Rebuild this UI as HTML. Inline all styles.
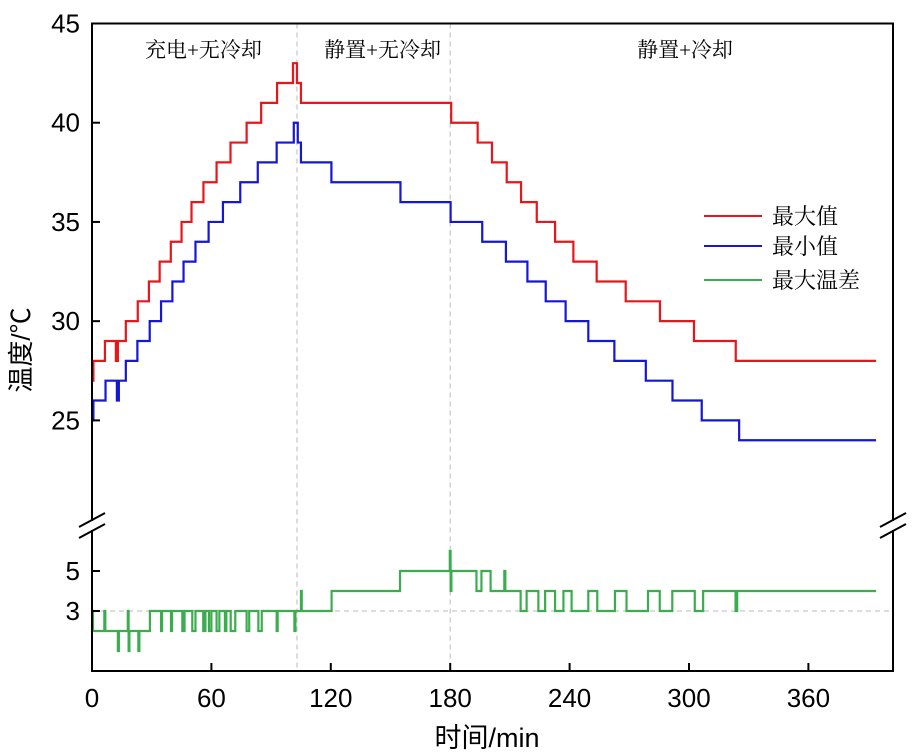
<!DOCTYPE html>
<html><head><meta charset="utf-8"><style>
html,body{margin:0;padding:0;background:#fff;}
svg{display:block;font-family:"Liberation Sans","Noto Sans CJK SC",sans-serif;}
.cn{font-family:"Liberation Serif","Noto Serif CJK SC",serif;}
</style></head><body>
<svg id="chart" width="920" height="756" viewBox="0 0 920 756" xmlns="http://www.w3.org/2000/svg"></svg>
<script>
const redTimes=[0,0.7,6.5,12,13,17,23,28.6,34,39.6,45,50,56,62.6,69.6,77.7,85,93,101,103,105,180.5,193.8,201,208.4,215.6,223.5,232.7,241.9,253.6,268.2,285.4,302.5,323.5];
const redValues=[27,28,29,28,29,30,31,32,33,34,35,36,37,38,39,40,41,42,43,42,41,40,39,38,37,36,35,34,33,32,31,30,29,28];
const blueTimes=[0,0.7,6.8,12.5,13.5,17,22.8,29,34.7,40.4,46,52,58.6,65.8,74.5,83.3,92.8,101.4,103.4,105,120.3,155,180.2,196.1,208,218.8,228,238,249.4,262.5,278.3,291.7,306.4,325.2];
const blueValues=[25,26,27,26,27,28,29,30,31,32,33,34,35,36,37,38,39,40,39,38,37,36,35,34,33,32,31,30,29,28,27,26,25,24];
const greenTimes=[0,0.5,6.2,6.7,13,13.5,18,18.4,18.8,23.3,23.8,29.1,34.7,35.2,39.7,40.2,45.4,46.5,50.4,52,55.9,57,58.8,60,62.6,64,66.8,67.5,69.7,72,77.7,79,83.6,85.3,92.8,93.3,101.7,102.2,105,105.4,120.4,154.8,179.8,180.2,180.6,193.2,195.7,200.3,207.2,207.7,215.4,218.4,224.3,227.7,232.7,236.9,241,249.4,253.9,262.8,268.6,279.4,285.3,291.6,302.9,307.1,323.4,324.2];
const greenValues=[3,2,3,2,1,2,3,1,2,1,2,3,2,3,2,3,2,3,2,3,2,3,2,3,2,3,2,3,2,3,2,3,2,3,2,3,2,3,4,3,4,5,6,4,5,4,5,4,5,4,3,4,3,4,3,4,3,4,3,4,3,4,3,4,3,4,3,4];
const endTime=394;
const xTicks=[0,60,120,180,240,300,360];
const yTicksUpper=[25,30,35,40,45];
const yTicksLower=[3,5];
const phaseLabels=["充电+无冷却","静置+无冷却","静置+冷却"];
const phaseCenters=[56,146,298];
const phaseBounds=[103,180];
const legendLabels=["最大值","最小值","最大温差"];

const L=92,R=893,TOP=23.5,UB=519.6,LT=531,B=671;
const X=t=>L+t*1.99;
const YU=v=>UB-(v-20)*(UB-TOP)/25;
const YL=v=>B-v*(B-LT)/7;
const svg=document.getElementById('chart');
const NS="http://www.w3.org/2000/svg";
function el(tag,attrs,parent){const e=document.createElementNS(NS,tag);for(const k in attrs)e.setAttribute(k,attrs[k]);(parent||svg).appendChild(e);return e;}

phaseBounds.forEach(t=>{
  const d=el('line',{x1:X(t),x2:X(t),y1:TOP,y2:B,stroke:'#bbb','stroke-width':1,'stroke-dasharray':'5,4'});
  
  
});
const h=el('line',{x1:L,x2:R,y1:YL(3),y2:YL(3),stroke:'#bbb','stroke-width':1,'stroke-dasharray':'5,4'});



function stepPath(ts,vs,Y){
  let d='M'+X(ts[0])+','+Y(vs[0]);
  for(let i=1;i<ts.length;i++){d+=' H'+X(ts[i])+' V'+Y(vs[i]);}
  d+=' H'+X(endTime);return d;
}
const pr=el('path',{d:stepPath(redTimes,redValues,YU),fill:'none',stroke:'#e8161b','stroke-width':2.2});


const pb=el('path',{d:stepPath(blueTimes,blueValues,YU),fill:'none',stroke:'#1416d8','stroke-width':2.2});


const pg=el('path',{d:stepPath(greenTimes,greenValues,YL),fill:'none',stroke:'#3cad4e','stroke-width':2.2});



const fr=el('path',{d:`M${L},${TOP} H${R} V${B} H${L} Z`,fill:'none',stroke:'#000','stroke-width':2});


el('rect',{x:L-3,y:521,width:5,height:9,fill:'#fff'});
el('rect',{x:R-3,y:521,width:5,height:9,fill:'#fff'});
[[L,520],[L,531],[R,520],[R,531]].forEach(p=>{
  const b=el('line',{x1:p[0]-13,y1:p[1]+7,x2:p[0]+13,y2:p[1]-7,stroke:'#000','stroke-width':2});
  
  
});

xTicks.forEach(t=>{
  const tk=el('line',{x1:X(t),x2:X(t),y1:B,y2:B-8,stroke:'#000','stroke-width':2});
  
  
  const tl=el('text',{x:X(t),y:707,'font-size':26,'text-anchor':'middle'});tl.textContent=t;
  
  
});
yTicksUpper.forEach(v=>{
  const tk=el('line',{x1:L,x2:L+8,y1:YU(v),y2:YU(v),stroke:'#000','stroke-width':2});
  
  
  const tl=el('text',{x:80,y:YU(v)+9,'font-size':26,'text-anchor':'end'});tl.textContent=v;
  
  
});
yTicksLower.forEach(v=>{
  const tk=el('line',{x1:L,x2:L+8,y1:YL(v),y2:YL(v),stroke:'#000','stroke-width':2});
  
  
  const tl=el('text',{x:80,y:YL(v)+9,'font-size':26,'text-anchor':'end'});tl.textContent=v;
  
  
});

phaseLabels.forEach((s,i)=>{
  const t=el('text',{x:X(phaseCenters[i]),y:57,'font-size':21,'text-anchor':'middle','class':'cn'});t.textContent=s;
  
  
});

const legColors=['#e8161b','#1416d8','#3cad4e'];
const legY=[216,246,280];
legendLabels.forEach((s,i)=>{
  const ln=el('line',{x1:704,x2:762,y1:legY[i],y2:legY[i],stroke:legColors[i],'stroke-width':2});
  
  
  const tx=el('text',{x:772,y:legY[i]+8,'font-size':22,'class':'cn'});tx.textContent=s;
  
  
});

const xt=el('text',{x:487,y:747,'font-size':27,'text-anchor':'middle'});xt.textContent='时间/min';


const yt=el('text',{x:0,y:0,'font-size':26,'text-anchor':'middle',transform:'translate(30,350) rotate(-90)'});yt.textContent='温度/℃';


</script>
</body></html>
